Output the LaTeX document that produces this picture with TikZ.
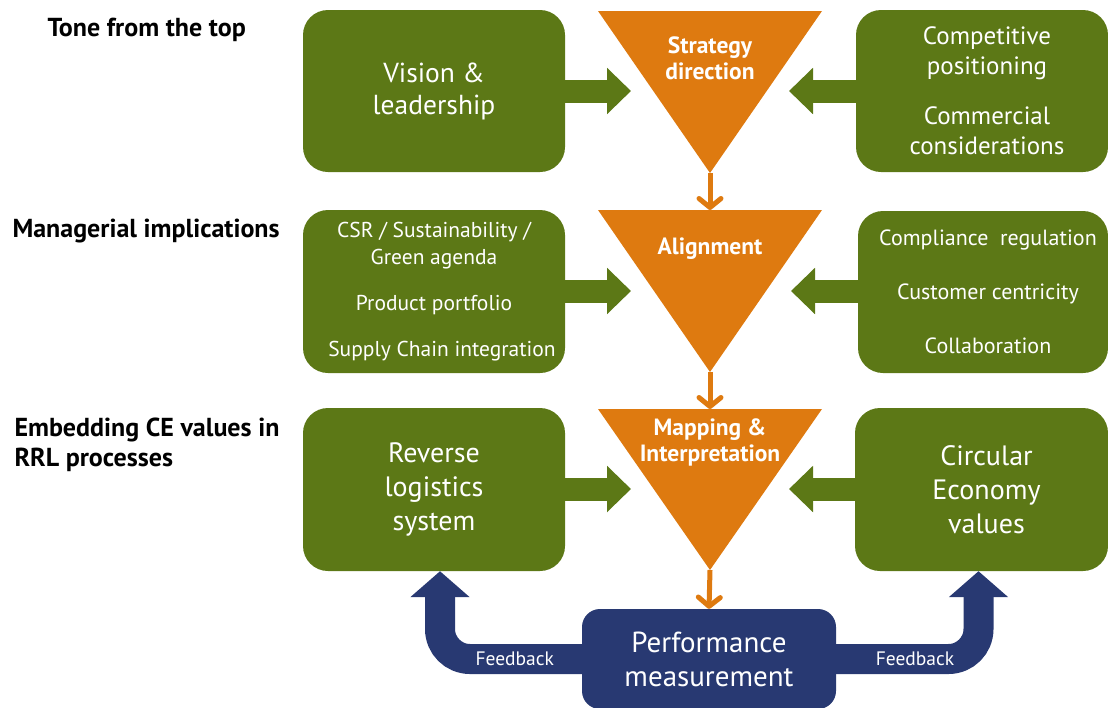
\documentclass[tikz,border=0pt]{standalone}
\usepackage{fontspec}
\setmainfont{PT Sans}
\usetikzlibrary{arrows.meta,positioning}
\definecolor{leaf}{RGB}{92,120,22}
\definecolor{amber}{RGB}{222,122,16}
\definecolor{navy}{RGB}{40,57,114}
\newcommand{\rsh}{\hspace*{10pt}}

\begin{document}
\begin{tikzpicture}[x=1pt,y=-1pt,
  gbox/.style={rounded corners=25pt,fill=leaf,text=white,align=center,inner sep=0pt},
  head/.style={anchor=west,align=left,font=\bfseries\fontsize{26}{30}\selectfont},
  tritext/.style={text=white,align=center,font=\bfseries\fontsize{23.5}{26}\selectfont},
  garrow/.style={leaf,line width=23pt,-{Triangle[length=24pt,width=45pt]}},
  oarrow/.style={amber,line width=5pt,-{Straight Barb[length=9pt,width=22pt,round]}},
  barrow/.style={navy,line width=30pt,rounded corners=30pt,-{Triangle[length=26pt,width=58pt]}},
  fblabel/.style={text=white,font=\fontsize{19.5}{20}\selectfont}]
\useasboundingbox (0,0) rectangle (1108,707);
%Headings on the left
\node[head] (tone) at (44,30) {Tone from the top};
\node[head] (manag) at (9,231) {Managerial implications};
\node[head] (embed) at (11,445) {Embedding CE values in\\RRL processes};
%Green boxes
\node[gbox,minimum width=262pt,minimum height=162pt,font=\fontsize{27.5}{32}\selectfont] (vision) at (434,91) {Vision \&\\leadership};
\node[gbox,minimum width=252pt,minimum height=162pt,font=\fontsize{25}{30}\selectfont] (compet) at (982,91) {\rsh Competitive\\\rsh positioning\\[20pt]\rsh Commercial\\\rsh considerations};
\node[gbox,minimum width=262pt,minimum height=163pt,font=\fontsize{21.5}{27}\selectfont] (csr) at (434,291.5) {CSR / Sustainability /\\Green agenda\\[19pt]Product portfolio\\[19pt]\hspace*{16pt}Supply Chain integration};
\node[gbox,minimum width=250pt,minimum height=162pt,font=\fontsize{22}{27}\selectfont] (compl) at (983,292) {\rsh Compliance~ regulation\\[27pt]\rsh Customer centricity\\[27pt]\rsh Collaboration};
\node[gbox,minimum width=262pt,minimum height=163pt,font=\fontsize{28}{34}\selectfont] (rls) at (434,489.5) {Reverse\\logistics\\system};
\node[gbox,minimum width=253pt,minimum height=163pt,font=\fontsize{28}{34}\selectfont] (cev) at (981.5,489.5) {\rsh Circular\\\rsh Economy\\\rsh values};
%Orange triangles
\fill[amber] (598,11) -- (822,11) -- (710,173) coordinate (sApex) -- cycle;
\fill[amber] (598,210) -- (822,210) -- (710,372) coordinate (aApex) -- cycle;
\fill[amber] (598,409) -- (822,409) -- (710,570) coordinate (mApex) -- cycle;
\coordinate (aTop) at (710,210);
\coordinate (mTop) at (710,409);
\node[tritext] (strat) at (710,58) {Strategy\\direction};
\node[tritext] (align) at (710,249) {Alignment};
\node[tritext] (mapp) at (710,442) {Mapping \&\\Interpretation};
%Performance box
\node[gbox,fill=navy,rounded corners=18pt,minimum width=254pt,minimum height=100pt,font=\fontsize{29}{34}\selectfont] (perf) at (709,659) {Performance\\measurement};
%Green arrows into the triangles
\coordinate (tipVis) at (631,91);
\coordinate (tipCom) at (789,91);
\coordinate (tipCsr) at (631,291);
\coordinate (tipCpl) at (791,291);
\coordinate (tipRls) at (631,489);
\coordinate (tipCev) at (789,489);
\draw[garrow] ([xshift=-2pt]vision.east |- tipVis) -- (tipVis);
\draw[garrow] ([xshift=2pt]compet.west |- tipCom) -- (tipCom);
\draw[garrow] ([xshift=-2pt]csr.east |- tipCsr) -- (tipCsr);
\draw[garrow] ([xshift=2pt]compl.west |- tipCpl) -- (tipCpl);
\draw[garrow] ([xshift=-2pt]rls.east |- tipRls) -- (tipRls);
\draw[garrow] ([xshift=2pt]cev.west |- tipCev) -- (tipCev);
%Orange arrows down
\draw[oarrow] (sApex) -- (aTop);
\draw[oarrow] (aApex) -- (mTop);
\draw[oarrow] (mApex) -- (perf.north);
%Feedback arrows
\draw[barrow] ([xshift=2pt]perf.west) -| node[pos=0.24,fblabel]{Feedback} ([xshift=6pt]rls.south);
\draw[barrow] ([xshift=-2pt]perf.east) -| node[pos=0.28,fblabel]{Feedback} ([xshift=-3pt]cev.south);
\end{tikzpicture}
\end{document}
